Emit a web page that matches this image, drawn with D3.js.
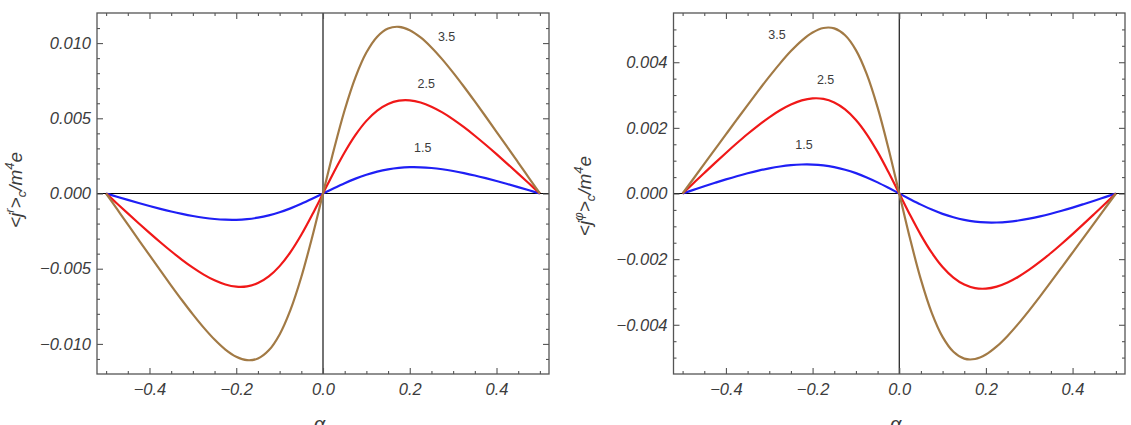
<!DOCTYPE html>
<html><head><meta charset="utf-8">
<script src="https://cdn.jsdelivr.net/npm/d3@7"></script>
<style>
html,body{margin:0;padding:0;background:#fff;}
svg{display:block;font-family:"Liberation Sans",Arial,sans-serif;}
</style></head>
<body><svg id="chart" width="1131" height="425"></svg>
<script>
// alpha grid (x values)
const alpha = [-0.5,-0.475,-0.45,-0.425,-0.4,-0.375,-0.35,-0.325,-0.3,-0.275,-0.25,-0.225,-0.2,-0.175,-0.15,-0.125,-0.1,-0.075,-0.05,-0.025,0,
  0.025,0.05,0.075,0.1,0.125,0.15,0.175,0.2,0.225,0.25,0.275,0.3,0.325,0.35,0.375,0.4,0.425,0.45,0.475,0.5];
const seriesNames = ["1.5","2.5","3.5"];
const seriesColors = ["#1f1ff5","#f01818","#a27a45"];

// left panel: <j^r>_c / m^4 e
const left15 = [0,-0.000213,-0.000423,-0.000629,-0.000829,-0.001018,-0.001196,-0.001356,-0.001496,-0.001611,-0.001695,-0.001742,-0.001747,-0.001704,-0.001607,-0.001456,-0.001249,-0.000990,-0.000687,-0.000352,0,
  0.000352,0.000687,0.000990,0.001249,0.001456,0.001607,0.001704,0.001747,0.001742,0.001695,0.001611,0.001496,0.001356,0.001196,0.001018,0.000829,0.000629,0.000423,0.000213,0];
const left25 = [0,-0.000662,-0.001322,-0.001974,-0.002615,-0.003239,-0.003840,-0.004407,-0.004930,-0.005391,-0.005772,-0.006049,-0.006193,-0.006173,-0.005957,-0.005515,-0.004829,-0.003897,-0.002743,-0.001418,0,
  0.001418,0.002743,0.003897,0.004829,0.005515,0.005957,0.006173,0.006193,0.006049,0.005772,0.005391,0.004930,0.004407,0.003840,0.003239,0.002615,0.001974,0.001322,0.000662,0];
const left35 = [0,-0.001028,-0.002056,-0.003082,-0.004104,-0.005118,-0.006118,-0.007096,-0.008035,-0.008917,-0.009710,-0.010375,-0.010855,-0.011082,-0.010971,-0.010428,-0.009369,-0.007740,-0.005551,-0.002905,0,
  0.002905,0.005551,0.007740,0.009369,0.010428,0.010971,0.011082,0.010855,0.010375,0.009710,0.008917,0.008035,0.007096,0.006118,0.005118,0.004104,0.003082,0.002056,0.001028,0];

// right panel: <j^phi>_c / m^4 e
const right15 = [0,0.000110,0.000220,0.000326,0.000429,0.000527,0.000617,0.000698,0.000767,0.000823,0.000863,0.000883,0.000882,0.000856,0.000804,0.000725,0.000620,0.000490,0.000339,0.000173,0,
  -0.000173,-0.000339,-0.000490,-0.000620,-0.000725,-0.000804,-0.000856,-0.000882,-0.000883,-0.000863,-0.000823,-0.000767,-0.000698,-0.000617,-0.000527,-0.000429,-0.000326,-0.000220,-0.000110,0];
const right25 = [0,0.000313,0.000625,0.000934,0.001236,0.001530,0.001813,0.002078,0.002322,0.002536,0.002711,0.002836,0.002898,0.002883,0.002776,0.002564,0.002241,0.001805,0.001269,0.000655,0,
  -0.000655,-0.001269,-0.001805,-0.002241,-0.002564,-0.002776,-0.002883,-0.002898,-0.002836,-0.002711,-0.002536,-0.002322,-0.002078,-0.001813,-0.001530,-0.001236,-0.000934,-0.000625,-0.000313,0];
const right35 = [0,0.000450,0.000900,0.001350,0.001800,0.002249,0.002695,0.003134,0.003560,0.003966,0.004339,0.004660,0.004907,0.005044,0.005032,0.004823,0.004370,0.003638,0.002626,0.001380,0,
  -0.001380,-0.002626,-0.003638,-0.004370,-0.004823,-0.005032,-0.005044,-0.004907,-0.004660,-0.004339,-0.003966,-0.003560,-0.003134,-0.002695,-0.002249,-0.001800,-0.001350,-0.000900,-0.000450,0];

// tick labels
const xTicks = [-0.4,-0.2,0,0.2,0.4];
const xMinor = [-0.5,-0.45,-0.35,-0.3,-0.25,-0.15,-0.1,-0.05,0.05,0.1,0.15,0.25,0.3,0.35,0.45,0.5];
const leftYTicks = [-0.010,-0.005,0,0.005,0.010];
const leftYMinor = [-0.011,-0.009,-0.008,-0.007,-0.006,-0.004,-0.003,-0.002,-0.001,0.001,0.002,0.003,0.004,0.006,0.007,0.008,0.009,0.011];
const rightYTicks = [-0.004,-0.002,0,0.002,0.004];
const rightYMinor = [-0.005,-0.0045,-0.0035,-0.003,-0.0025,-0.0015,-0.001,-0.0005,0.0005,0.001,0.0015,0.0025,0.003,0.0035,0.0045,0.005];

const svg = d3.select("#chart");
const textColor = "#3c3c3c";

function panel(o){
  const x = d3.scaleLinear().domain([-0.521,0.521]).range([o.x0,o.x1]);
  const y = d3.scaleLinear().domain(o.yDomain).range([374,13]);
  const g = svg.append("g");
  // zero axes
  g.append("line").attr("x1",x(0)).attr("x2",x(0)).attr("y1",13).attr("y2",374).attr("stroke","#000").attr("stroke-width",1.1);
  g.append("line").attr("x1",o.x0).attr("x2",o.x1).attr("y1",y(0)).attr("y2",y(0)).attr("stroke","#000").attr("stroke-width",1.1);

  // curves
  const line = d3.line().x((d,i)=>x(alpha[i])).y(d=>y(d)).curve(d3.curveCatmullRom.alpha(0.5));
  o.series.forEach((s,i)=>{
    g.append("path").datum(s).attr("d",line).attr("fill","none")
      .attr("stroke",seriesColors[i]).attr("stroke-width",2.2);
  });
  // curve labels
  o.labels.forEach((l,i)=>{
    g.append("text").attr("x",x(l[0])).attr("y",y(l[1])).attr("text-anchor","middle")
      .attr("dominant-baseline","central").attr("font-size",12.5).attr("fill",textColor).text(seriesNames[i]);
  });

  const styleAxis = (sel)=>{
    sel.select(".domain").remove();
    sel.selectAll(".tick line").attr("stroke","#555").attr("stroke-width",1.1);
    sel.selectAll(".tick text").attr("fill",textColor).attr("font-size",16.5).attr("font-style","italic").attr("font-family","'Liberation Sans',Arial,sans-serif");
  };
  // bottom
  g.append("g").attr("transform",`translate(0,374)`).call(d3.axisBottom(x).tickValues(xTicks).tickSize(-6).tickPadding(9).tickFormat(d3.format(".1f"))).call(styleAxis);
  g.append("g").attr("transform",`translate(0,374)`).call(d3.axisBottom(x).tickValues(xMinor).tickSize(-3).tickFormat("")).call(styleAxis);
  // top
  g.append("g").attr("transform",`translate(0,13)`).call(d3.axisTop(x).tickValues(xTicks).tickSize(-6).tickFormat("")).call(styleAxis);
  g.append("g").attr("transform",`translate(0,13)`).call(d3.axisTop(x).tickValues(xMinor).tickSize(-3).tickFormat("")).call(styleAxis);
  // left
  g.append("g").attr("transform",`translate(${o.x0},0)`).call(d3.axisLeft(y).tickValues(o.yTicks).tickSize(-6).tickPadding(6).tickFormat(d3.format(".3f"))).call(styleAxis);
  g.append("g").attr("transform",`translate(${o.x0},0)`).call(d3.axisLeft(y).tickValues(o.yMinor).tickSize(-3).tickFormat("")).call(styleAxis);
  // right
  g.append("g").attr("transform",`translate(${o.x1},0)`).call(d3.axisRight(y).tickValues(o.yTicks).tickSize(-6).tickFormat("")).call(styleAxis);
  g.append("g").attr("transform",`translate(${o.x1},0)`).call(d3.axisRight(y).tickValues(o.yMinor).tickSize(-3).tickFormat("")).call(styleAxis);

  // frame
  g.append("rect").attr("x",o.x0).attr("y",13).attr("width",o.x1-o.x0).attr("height",361)
    .attr("fill","none").attr("stroke","#555").attr("stroke-width",1.3);

  // y title
  const yt = g.append("text").attr("transform",`translate(${o.ytx},${o.yty}) rotate(-90)`)
    .attr("text-anchor","middle").attr("font-size",19).attr("font-style","italic").attr("fill",textColor);
  yt.append("tspan").text("<j");
  yt.append("tspan").attr("dy",-8).attr("font-size",13).text(o.sup);
  yt.append("tspan").attr("dy",8).text(">");
  yt.append("tspan").attr("dy",4).attr("font-size",13).text("c");
  yt.append("tspan").attr("dy",-4).text("/m");
  yt.append("tspan").attr("dy",-8).attr("font-size",13).text("4");
  yt.append("tspan").attr("dy",8).text("e");
  // x title
  const xt = g.append("text").attr("x",x(0)).attr("y",431).attr("text-anchor","middle")
    .attr("font-size",20).attr("font-style","italic").attr("fill",textColor);
  xt.append("tspan").text("α");
  xt.append("tspan").attr("dy",5).attr("font-size",13).text("0");
}

panel({x0:97,x1:549,yDomain:[-0.012,0.012],series:[left15,left25,left35],
  yTicks:leftYTicks,yMinor:leftYMinor,sup:"r",ytx:22,yty:190,
  labels:[[0.23,0.00305],[0.238,0.0073],[0.285,0.0104]]});
panel({x0:673.5,x1:1125,yDomain:[-0.0055,0.0055],series:[right15,right25,right35],
  yTicks:rightYTicks,yMinor:rightYMinor,sup:"φ",ytx:591,yty:196,
  labels:[[-0.22,0.00148],[-0.17,0.00347],[-0.282,0.00482]]});
</script></body></html>
